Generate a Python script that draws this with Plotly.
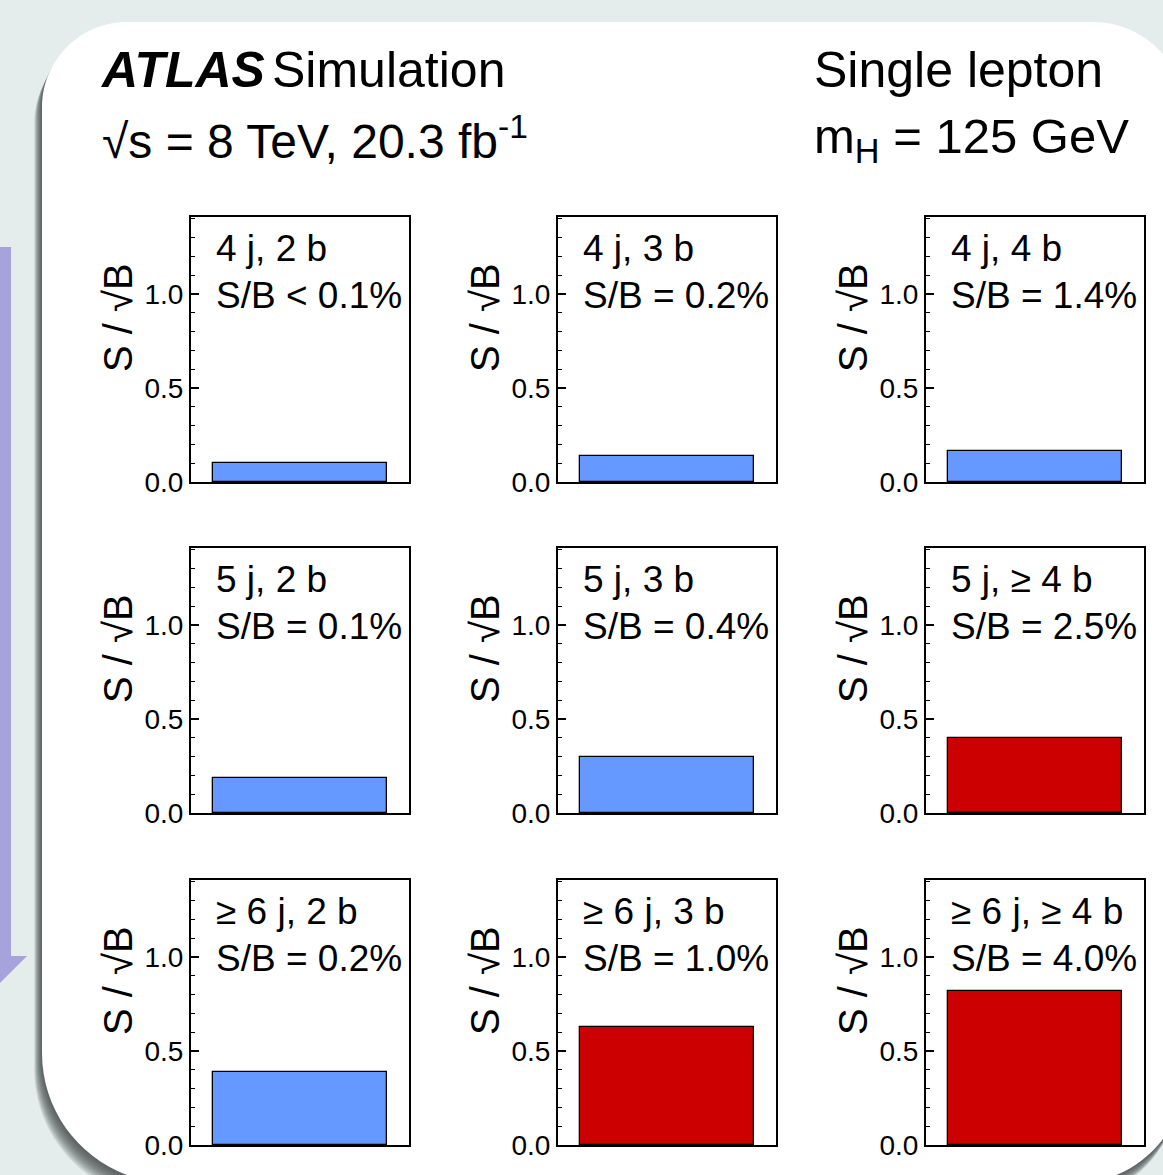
import plotly.graph_objects as go

W, H = 1163, 1175

# ---------------- data ----------------
panel_labels = ["4 j, 2 b", "4 j, 3 b", "4 j, 4 b",
                "5 j, 2 b", "5 j, 3 b", "5 j, ≥ 4 b",
                "≥ 6 j, 2 b", "≥ 6 j, 3 b", "≥ 6 j, ≥ 4 b"]
sb_labels = ["S/B < 0.1%", "S/B = 0.2%", "S/B = 1.4%",
             "S/B = 0.1%", "S/B = 0.4%", "S/B = 2.5%",
             "S/B = 0.2%", "S/B = 1.0%", "S/B = 4.0%"]
s_over_sqrt_b = [0.10, 0.14, 0.165,
                 0.185, 0.30, 0.40,
                 0.39, 0.63, 0.82]
signal_rich = [False, False, False,
               False, False, True,
               False, True, True]
y_tick_vals = [0.0, 0.5, 1.0]
y_tick_text = ["0.0", "0.5", "1.0"]

# ---------------- styling ----------------
BG = "#e4edeb"
LAVENDER = "#a6a2dc"
BLUE = "#6699ff"
RED = "#cc0000"
FONT = "Liberation Sans, Arial, Helvetica, sans-serif"

col_left = [191, 558, 926]
col_w = 218
row_top = [217, 548, 880]
row_h = 265


def px(x):
    return x / W


def py(y):
    return 1 - y / H


def fmt(x, y):
    return f"{px(x):.5f},{py(y):.5f}"


def rounded_path(l, t, r, b, rtl, rtr, rbr, rbl, dx=0, dy=0):
    k = 0.5523
    l, r = l + dx, r + dx
    t, b = t + dy, b + dy
    p = []
    p.append("M" + fmt(l, t + rtl))
    p.append("C" + fmt(l, t + rtl - k * rtl) + " " + fmt(l + rtl - k * rtl, t) + " " + fmt(l + rtl, t))
    p.append("L" + fmt(r - rtr, t))
    p.append("C" + fmt(r - rtr + k * rtr, t) + " " + fmt(r, t + rtr - k * rtr) + " " + fmt(r, t + rtr))
    p.append("L" + fmt(r, b - rbr))
    p.append("C" + fmt(r, b - rbr + k * rbr) + " " + fmt(r - rbr + k * rbr, b) + " " + fmt(r - rbr, b))
    p.append("L" + fmt(l + rbl, b))
    p.append("C" + fmt(l + rbl - k * rbl, b) + " " + fmt(l, b - rbl + k * rbl) + " " + fmt(l, b - rbl))
    p.append("Z")
    return " ".join(p)


panel = (42, 22, 1185, 1183, 85, 92, 110, 130)

shapes = []
# shadow (darker close to the panel edge)
for i in range(9, 0, -1):
    shapes.append(dict(type="path", xref="paper", yref="paper", layer="below",
                       path=rounded_path(*panel, dx=-i * 0.85, dy=i * 1.8),
                       fillcolor="rgba(60,70,70,0.16)", line=dict(width=0)))
# white panel
shapes.append(dict(type="path", xref="paper", yref="paper", layer="below",
                   path=rounded_path(*panel), fillcolor="white", line=dict(width=0)))
# lavender arrow
arrow = "M" + " L".join(fmt(x, y) for x, y in [(-2, 247), (11, 247), (11, 956), (27, 956), (-2, 985)]) + " Z"
shapes.append(dict(type="path", xref="paper", yref="paper", layer="below",
                   path=arrow, fillcolor=LAVENDER, line=dict(width=0)))

fig = go.Figure()
annotations = []
layout_axes = {}

for i in range(9):
    r, c = divmod(i, 3)
    xn = "x" if i == 0 else f"x{i + 1}"
    yn = "y" if i == 0 else f"y{i + 1}"
    xk = "xaxis" if i == 0 else f"xaxis{i + 1}"
    yk = "yaxis" if i == 0 else f"yaxis{i + 1}"
    x0, x1 = col_left[c], col_left[c] + col_w
    y0, y1 = row_top[r], row_top[r] + row_h

    fig.add_trace(go.Bar(x=[0.5], y=[s_over_sqrt_b[i]], width=[0.8],
                         marker=dict(color=RED if signal_rich[i] else BLUE,
                                     line=dict(color="black", width=1.3)),
                         xaxis=xn, yaxis=yn, showlegend=False, hoverinfo="y"))

    layout_axes[xk] = dict(domain=[px(x0), px(x1)], anchor=yn, range=[0, 1],
                           showticklabels=False, ticks="", showgrid=False, zeroline=False,
                           automargin=False,
                           showline=True, mirror=True, linecolor="black", linewidth=2)
    layout_axes[yk] = dict(domain=[py(y1), py(y0)], anchor=xn, range=[0, 1.41],
                           tickmode="array", tickvals=y_tick_vals, ticktext=y_tick_text,
                           ticks="inside", ticklen=8, tickwidth=1.5, tickcolor="black",
                           minor=dict(tickmode="linear", tick0=0, dtick=0.1, ticks="inside",
                                      ticklen=4, tickwidth=1, tickcolor="black", showgrid=False),
                           showgrid=False, zeroline=False, automargin=False,
                           showline=True, mirror=True, linecolor="black", linewidth=2,
                           tickfont=dict(size=28, color="black", family=FONT))

    annotations.append(dict(x=px(x0 + 23), y=py(y0 + 31), xref="paper", yref="paper",
                            text=panel_labels[i], showarrow=False, xanchor="left", yanchor="middle",
                            font=dict(size=37, color="black", family=FONT)))
    annotations.append(dict(x=px(x0 + 23), y=py(y0 + 78), xref="paper", yref="paper",
                            text=sb_labels[i], showarrow=False, xanchor="left", yanchor="middle",
                            font=dict(size=37, color="black", family=FONT)))
    annotations.append(dict(x=px(x0 - 73), y=py(y0 + 101), xref="paper", yref="paper",
                            text="S / √B", textangle=-90, showarrow=False,
                            xanchor="center", yanchor="middle",
                            font=dict(size=40, color="black", family=FONT)))

# header texts
annotations += [
    dict(x=px(98), y=py(70), xref="paper", yref="paper", showarrow=False,
         xanchor="left", yanchor="middle",
         text="<b><i>ATLAS</i></b>", font=dict(size=50, color="black", family=FONT)),
    dict(x=px(270), y=py(70), xref="paper", yref="paper", showarrow=False,
         xanchor="left", yanchor="middle",
         text="Simulation", font=dict(size=50, color="black", family=FONT)),
    dict(x=px(100), y=py(138), xref="paper", yref="paper", showarrow=False,
         xanchor="left", yanchor="middle",
         text="√s = 8 TeV, 20.3 fb<sup>-1</sup>", font=dict(size=48, color="black", family=FONT)),
    dict(x=px(812), y=py(70), xref="paper", yref="paper", showarrow=False,
         xanchor="left", yanchor="middle",
         text="Single lepton", font=dict(size=50, color="black", family=FONT)),
    dict(x=px(812), y=py(140), xref="paper", yref="paper", showarrow=False,
         xanchor="left", yanchor="middle",
         text="m<sub>H</sub> = 125 GeV", font=dict(size=49, color="black", family=FONT)),
]

fig.update_layout(
    width=W, height=H, autosize=False,
    margin=dict(l=0, r=0, t=0, b=0, pad=0, autoexpand=False),
    paper_bgcolor=BG, plot_bgcolor="white",
    font=dict(family=FONT, color="black"),
    shapes=shapes, annotations=annotations,
    bargap=0, showlegend=False,
    **layout_axes,
)

fig.write_html("out.html")
